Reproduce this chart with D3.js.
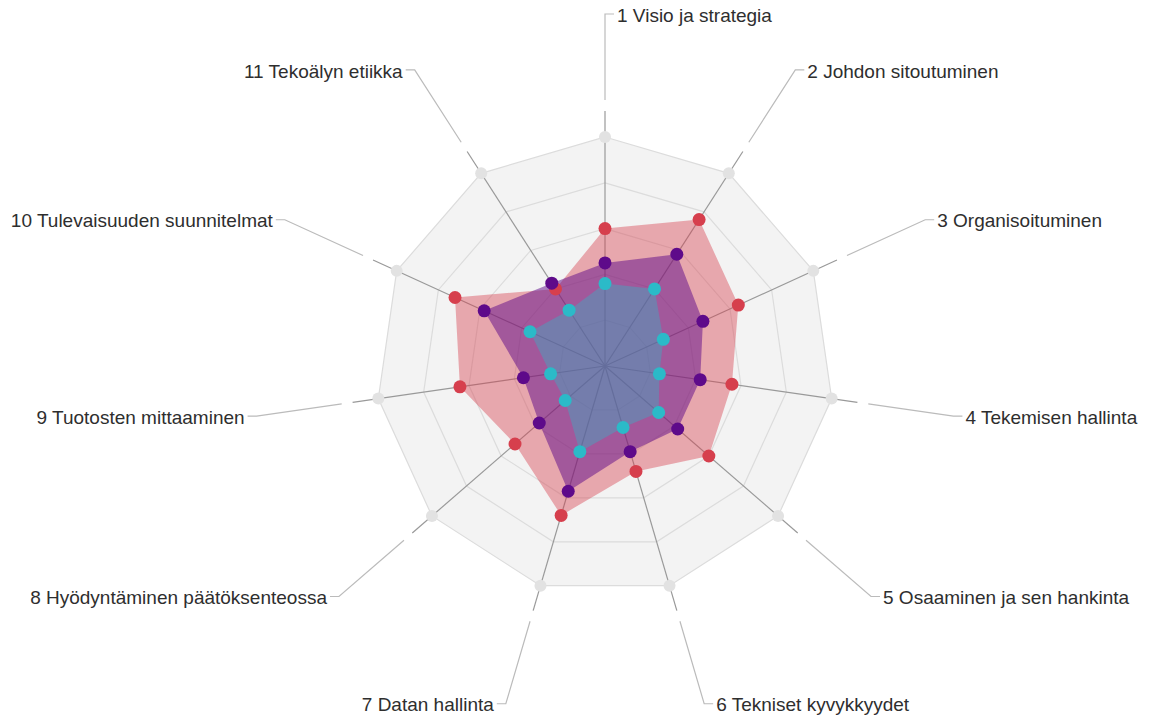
<!DOCTYPE html>
<html>
<head>
<meta charset="utf-8">
<script src="https://cdn.jsdelivr.net/npm/d3@7"></script>
<style>
body{margin:0;background:#fff;}
.label{font-family:"Liberation Sans",Arial,sans-serif;font-size:19px;fill:#2e2e2e;}
</style>
</head>
<body>
<script>
var axes=["1 Visio ja strategia","2 Johdon sitoutuminen","3 Organisoituminen","4 Tekemisen hallinta","5 Osaaminen ja sen hankinta","6 Tekniset kyvykkyydet","7 Datan hallinta","8 Hyödyntäminen päätöksenteossa","9 Tuotosten mittaaminen","10 Tulevaisuuden suunnitelmat","11 Tekoälyn etiikka"];
var red_vals=[3.0,3.8,3.2,2.8,3.0,2.4,3.4,2.6,3.2,3.6,2.0];
var purple_vals=[2.25,2.9,2.35,2.1,2.1,1.95,2.85,1.9,1.8,2.9,2.15];
var cyan_vals=[1.8,2.0,1.4,1.2,1.55,1.4,1.95,1.15,1.2,1.8,1.45];
var levels=[1,2,3,4,5];

var width=1149;
var height=716;
var cx=605,cy=366;
var R=229;
var series=[
	{vals:red_vals,color:"#d63f4d",op:0.42},
	{vals:purple_vals,color:"#5e0a8a",op:0.5},
	{vals:cyan_vals,color:"#2bbac8",op:0.38}
];

var svg=d3.select("body").append("svg").attr("width",width).attr("height",height);
var g=svg.append("g").attr("transform","translate("+cx+","+cy+")");

var rscale=d3.scaleLinear().domain([0,5]).range([0,R]);
var angle=d3.scaleLinear().domain([0,axes.length]).range([0,2*Math.PI]);
var radar=d3.lineRadial().curve(d3.curveLinearClosed).angle(function(d,i){return angle(i);});

// background + grid levels
g.append("path").datum(axes).attr("d",radar.radius(R)).style("fill","#f3f3f3").style("stroke","none");
g.selectAll(".level").data(levels).enter().append("path").attr("class","level")
	.attr("d",function(l){return radar.radius(rscale(l))(axes);})
	.style("fill","none").style("stroke","#dcdcdc").style("stroke-width",1.2);

// axis lines
g.selectAll(".axis").data(axes).enter().append("line").attr("class","axis")
	.attr("x1",0).attr("y1",0)
	.attr("x2",function(d,i){return d3.pointRadial(angle(i),255)[0];})
	.attr("y2",function(d,i){return d3.pointRadial(angle(i),255)[1];})
	.style("stroke","#999").style("stroke-width",1.2);

// leaders
g.selectAll(".leader").data(axes).enter().append("path").attr("class","leader")
	.attr("d",function(d,i){
		var a=d3.pointRadial(angle(i),266),b=d3.pointRadial(angle(i),352);
		var s=i<=5?1:-1;
		return "M"+a+"L"+b+"L"+(b[0]+s*9)+","+b[1];
	})
	.style("fill","none").style("stroke","#bbb").style("stroke-width",1.2);

g.selectAll(".label").data(axes).enter().append("text").attr("class","label")
	.attr("x",function(d,i){var b=d3.pointRadial(angle(i),352);return i<=5?b[0]+12:b[0]-12;})
	.attr("y",function(d,i){return d3.pointRadial(angle(i),352)[1]+1;})
	.attr("dy","0.35em")
	.attr("text-anchor",function(d,i){return i<=5?"start":"end";})
	.text(function(d){return d;});

// outer markers
g.selectAll(".outer").data(axes).enter().append("circle").attr("class","outer")
	.attr("cx",function(d,i){return d3.pointRadial(angle(i),R)[0];})
	.attr("cy",function(d,i){return d3.pointRadial(angle(i),R)[1];})
	.attr("r",6).style("fill","#e2e2e2");

// areas
series.forEach(function(s){
	g.append("path").datum(s.vals).attr("d",radar.radius(function(d){return rscale(d);}))
		.style("fill",s.color).style("fill-opacity",s.op).style("stroke","none");
});
// points
series.forEach(function(s){
	g.selectAll(null).data(s.vals).enter().append("circle")
		.attr("cx",function(d,i){return d3.pointRadial(angle(i),rscale(d))[0];})
		.attr("cy",function(d,i){return d3.pointRadial(angle(i),rscale(d))[1];})
		.attr("r",6.5).style("fill",s.color);
});
</script>
</body>
</html>
